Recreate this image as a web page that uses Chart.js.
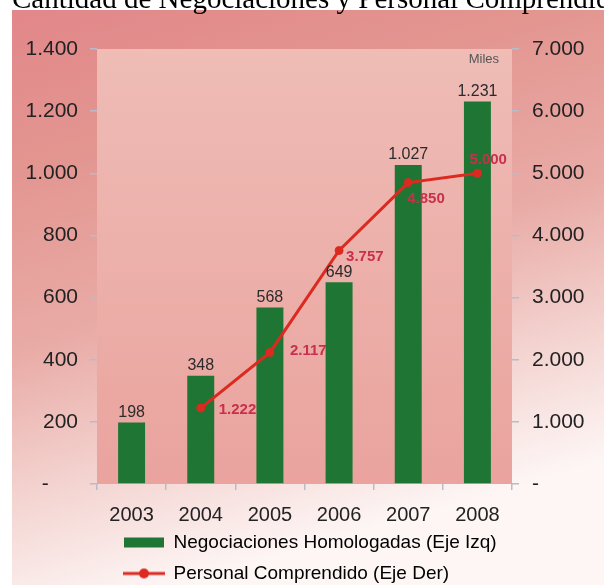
<!DOCTYPE html>
<html>
<head>
<meta charset="utf-8">
<script src="https://cdn.jsdelivr.net/npm/chart.js@4.4.1/dist/chart.umd.min.js"></script>
<style>
  html, body { margin: 0; padding: 0; background: #ffffff; overflow: hidden; }
  #wrap { position: relative; width: 604px; height: 585px; overflow: hidden; }
  #titulo {
    position: absolute; left: 12px; top: -16px; z-index: 2;
    font: 29px/28px "Liberation Serif", "Times New Roman", serif;
    color: #000; white-space: nowrap;
  }
  #grafico { position: absolute; left: 0; top: 0; }
</style>
</head>
<body>
<div id="wrap">
  <div id="titulo">Cantidad de Negociaciones y Personal Comprendido</div>
  <canvas id="grafico" width="604" height="585"></canvas>
</div>
<script>
// Años del periodo
const years = ['2003', '2004', '2005', '2006', '2007', '2008'];
// Negociaciones homologadas (eje izquierdo)
const negociaciones = [198, 348, 568, 649, 1027, 1231];
// Personal comprendido, en miles (eje derecho)
const personal = [null, 1222, 2117, 3757, 4850, 5000];
// Marcas de los ejes
const leftTicks = [0, 200, 400, 600, 800, 1000, 1200, 1400];
const rightTicks = [0, 1000, 2000, 3000, 4000, 5000, 6000, 7000];
const seriesNames = ['Negociaciones Homologadas (Eje Izq)', 'Personal Comprendido (Eje Der)'];

const GREEN = '#1f7634';
const RED = '#dc2a20';
const LABEL_RED = '#c8304b';
const TICK_GRAY = '#b7bdc8';
const FONT = '"Liberation Sans", Arial, sans-serif';

// Separador de miles con punto
function fmt(v) {
  return String(v).replace(/\B(?=(\d{3})+(?!\d))/g, '.');
}

// Muestras de la leyenda
function legendSwatch(kind) {
  const c = document.createElement('canvas');
  c.width = 42; c.height = 12;
  const x = c.getContext('2d');
  if (kind === 'bar') {
    x.fillStyle = GREEN;
    x.fillRect(1, 1, 40, 10);
  } else {
    x.strokeStyle = RED; x.lineWidth = 3;
    x.beginPath(); x.moveTo(0, 6); x.lineTo(42, 6); x.stroke();
    x.fillStyle = RED;
    x.beginPath(); x.arc(21, 6, 5, 0, Math.PI * 2); x.fill();
  }
  return c;
}

// Fondos del lienzo y del área de trazado
const fondo = {
  id: 'fondo',
  beforeDraw(chart) {
    const { ctx, chartArea: ca } = chart;
    ctx.save();
    const g = ctx.createLinearGradient(12, 10, 180, 585);
    g.addColorStop(0, '#e2878a');
    g.addColorStop(0.25, '#e39590');
    g.addColorStop(0.55, '#e9aba6');
    g.addColorStop(0.8, '#f4d6d3');
    g.addColorStop(1, '#fdf6f5');
    ctx.fillStyle = g;
    ctx.fillRect(12, 10, 592, 575);
    const p = ctx.createLinearGradient(0, ca.top, 0, ca.bottom);
    p.addColorStop(0, '#efbcb6');
    p.addColorStop(1, '#eaa39e');
    ctx.fillStyle = p;
    ctx.fillRect(ca.left, ca.top, ca.right - ca.left, ca.bottom - ca.top);
    ctx.restore();
  }
};

// Posición de la leyenda bajo el eje de categorías
const leyendaPos = {
  id: 'leyendaPos',
  afterLayout(chart, args, opts) {
    const lg = chart.legend;
    if (!lg) return;
    lg.left += opts.dx; lg.right += opts.dx;
    lg.top += opts.dy;
    lg.bottom = chart.height;
  }
};

// Etiquetas de valor de barras y de la línea, y unidad del eje derecho
const etiquetas = {
  id: 'etiquetas',
  afterDatasetsDraw(chart, args, opts) {
    const { ctx, chartArea: ca } = chart;
    ctx.save();
    const barMeta = chart.getDatasetMeta(0);
    ctx.font = '16px ' + FONT;
    ctx.fillStyle = '#2b2b2b';
    ctx.textAlign = 'center';
    ctx.textBaseline = 'bottom';
    barMeta.data.forEach((el, i) => {
      ctx.fillText(fmt(negociaciones[i]), el.x, el.y - 2);
    });
    const lineMeta = chart.getDatasetMeta(1);
    ctx.font = 'bold 15px ' + FONT;
    ctx.fillStyle = LABEL_RED;
    ctx.textAlign = 'left';
    ctx.textBaseline = 'middle';
    lineMeta.data.forEach((el, i) => {
      if (personal[i] == null) return;
      const [dx, dy] = opts.lineLabelOffsets[i];
      ctx.fillText(fmt(personal[i]), el.x + dx, el.y + dy);
    });
    ctx.font = '13px ' + FONT;
    ctx.fillStyle = '#555555';
    ctx.textAlign = 'right';
    ctx.fillText('Miles', ca.right - 13, ca.top + 10);
    ctx.restore();
  }
};

new Chart(document.getElementById('grafico'), {
  data: {
    labels: years,
    datasets: [
      {
        type: 'bar',
        label: seriesNames[0],
        data: negociaciones,
        yAxisID: 'y',
        backgroundColor: GREEN,
        borderWidth: 0,
        barPercentage: 0.39,
        categoryPercentage: 1,
        order: 1
      },
      {
        type: 'line',
        label: seriesNames[1],
        data: personal,
        yAxisID: 'y1',
        borderColor: RED,
        backgroundColor: RED,
        borderWidth: 3,
        pointRadius: 4,
        pointBorderWidth: 1,
        pointBorderColor: RED,
        pointBackgroundColor: RED,
        tension: 0,
        order: 0
      }
    ]
  },
  options: {
    responsive: false,
    animation: false,
    devicePixelRatio: 1,
    layout: { padding: { top: 49, left: 0, right: 0, bottom: 0 } },
    scales: {
      x: {
        offset: true,
        grid: { display: true, offset: true, drawOnChartArea: false, drawTicks: true, tickLength: 6, color: TICK_GRAY, lineWidth: 1.5 },
        border: { display: false },
        ticks: { color: '#222222', font: { family: FONT, size: 20 }, padding: 13 },
        afterFit(s) { s.height = 45; }
      },
      y: {
        position: 'left',
        min: 0, max: 1400,
        afterBuildTicks(s) { s.ticks = leftTicks.map(v => ({ value: v })); },
        ticks: {
          color: '#222222', font: { family: FONT, size: 21 }, padding: 12,
          callback: v => (v === 0 ? '-     ' : fmt(v))
        },
        grid: { drawOnChartArea: false, drawTicks: true, tickLength: 7, color: TICK_GRAY, lineWidth: 1.5 },
        border: { display: false },
        afterFit(s) { s.width = 97; }
      },
      y1: {
        position: 'right',
        min: 0, max: 7000,
        afterBuildTicks(s) { s.ticks = rightTicks.map(v => ({ value: v })); },
        ticks: {
          color: '#222222', font: { family: FONT, size: 21 }, padding: 13,
          callback: v => (v === 0 ? '-' : fmt(v))
        },
        grid: { drawOnChartArea: false, drawTicks: true, tickLength: 7, color: TICK_GRAY, lineWidth: 1.5 },
        border: { display: false },
        afterFit(s) { s.width = 92; }
      }
    },
    plugins: {
      title: { display: false },
      tooltip: { enabled: false },
      legend: {
        display: true,
        position: 'bottom',
        align: 'start',
        fullSize: false,
        maxHeight: 56,
        labels: {
          usePointStyle: true,
          pointStyleWidth: 40,
          padding: 12,
          color: '#222222',
          font: { family: FONT, size: 19 },
          generateLabels() {
            return [
              { text: seriesNames[0], pointStyle: legendSwatch('bar'), fillStyle: GREEN, strokeStyle: GREEN, lineWidth: 0, hidden: false, datasetIndex: 0 },
              { text: seriesNames[1], pointStyle: legendSwatch('line'), fillStyle: RED, strokeStyle: RED, lineWidth: 0, hidden: false, datasetIndex: 1 }
            ];
          }
        }
      },
      leyendaPos: { dx: 15, dy: -8 },
      etiquetas: {
        lineLabelOffsets: [[0, 0], [18, 2], [20, -2], [7, 6], [-1, 16], [-8, -13]]
      }
    }
  },
  plugins: [fondo, leyendaPos, etiquetas]
});
</script>
</body>
</html>
